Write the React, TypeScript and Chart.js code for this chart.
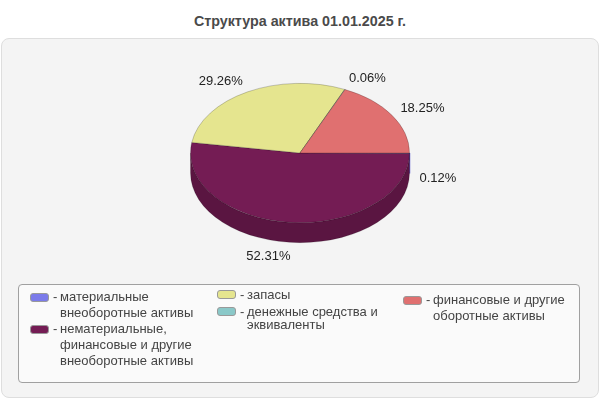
import React, { useEffect, useRef } from 'react'
import { Chart, registerables } from "chart.js";

Chart.register(...registerables)

const title = 'Структура актива 01.01.2025 г.'

const labels = [
    'материальные внеоборотные активы',
    'нематериальные, финансовые и другие внеоборотные активы',
    'запасы',
    'денежные средства и эквиваленты',
    'финансовые и другие оборотные активы',
]
const values = [0.12, 52.31, 29.26, 0.06, 18.25]
const colors = ['#7b7bea', '#741c54', '#e5e58f', '#8ac8c8', '#e07070']
const sideColors = ['#6a6ad8', '#5a1541', '#b3b26e', '#6a9d9d', '#ae5656']

// which legend column each series goes into
const legendColumns = [[0, 1], [2, 3], [4]]

const FONT = "'Liberation Sans', Arial, sans-serif"
const TILT = 0.636
const DEPTH = 20

const pie3d = {
    id: 'pie3d',
    beforeDatasetsDraw(chart: any) {
        const ctx = chart.ctx as CanvasRenderingContext2D
        const arcs = chart.getDatasetMeta(0).data
        if (!arcs.length) return
        const cx = arcs[0].x, cy = arcs[0].y, r = arcs[0].outerRadius
        const ry = r * TILT
        // side walls, front half only
        arcs.forEach((arc: any, i: number) => {
            const a1 = Math.max(arc.startAngle, 0)
            const a2 = Math.min(arc.endAngle, Math.PI)
            if (a2 <= a1) return
            ctx.beginPath()
            ctx.ellipse(cx, cy, r, ry, 0, a1, a2)
            ctx.ellipse(cx, cy + DEPTH, r, ry, 0, a2, a1, true)
            ctx.closePath()
            ctx.fillStyle = sideColors[i]
            ctx.fill()
            ctx.strokeStyle = i === 0 ? sideColors[0] : 'rgba(0,0,0,0.25)'
            ctx.lineWidth = i === 0 ? 1.5 : 0.6
            ctx.stroke()
        })
        ctx.save()
        ctx.translate(cx, cy)
        ctx.scale(1, TILT)
        ctx.translate(-cx, -cy)
    },
    afterDatasetsDraw(chart: any) {
        const ctx = chart.ctx as CanvasRenderingContext2D
        ctx.restore()
        const arcs = chart.getDatasetMeta(0).data
        if (!arcs.length) return
        const cx = arcs[0].x, cy = arcs[0].y, r = arcs[0].outerRadius
        const ry = r * TILT
        ctx.save()
        ctx.font = '13px ' + FONT
        ctx.fillStyle = '#222'
        ctx.textBaseline = 'middle'
        arcs.forEach((arc: any, i: number) => {
            const mid = (arc.startAngle + arc.endAngle) / 2
            const c = Math.cos(mid), s = Math.sin(mid)
            const x = cx + c * (r + 10)
            const y = cy + s * (ry + 12) + (s > 0 ? DEPTH + 2 : 0) + (Math.abs(s) < 0.1 ? 3 : 0)
            ctx.textAlign = c < 0 ? 'right' : 'left'
            ctx.fillText(values[i].toFixed(2) + '%', x, y)
        })
        ctx.restore()
    }
}

const PieChart: React.FunctionComponent = () => {

    const chartRef = useRef<HTMLCanvasElement>(null)

    useEffect(() => {
        const chartCtx = chartRef.current!.getContext("2d") as CanvasRenderingContext2D;

        const newChart = new Chart(chartCtx, {
            type: "pie",
            data: {
                labels: labels,
                datasets: [
                    {
                        data: values,
                        backgroundColor: colors,
                        borderColor: 'rgba(0,0,0,0.25)',
                        borderWidth: 1,
                    }
                ]
            },
            options: {
                animation: false,
                responsive: false,
                rotation: 90,
                layout: {
                    padding: { left: 190, right: 190, top: 43, bottom: 137 }
                },
                plugins: {
                    legend: { display: false },
                    tooltip: { enabled: false },
                    title: { display: false },
                }
            },
            plugins: [pie3d],
        });

        return () => {
            newChart.destroy()
        }
    }, [])

    const legendItem = (i: number, lineHeight: number, gap: number) => (
        <div key={i} style={{ display: 'flex', alignItems: 'flex-start', marginBottom: gap }}>
            <div style={{
                width: 17, height: 7, marginTop: (lineHeight - 9) / 2, borderRadius: 3,
                background: colors[i], border: '1px solid #999', flexShrink: 0,
            }} />
            <div style={{ width: 11, paddingLeft: 4, boxSizing: 'border-box' }}>-</div>
            <div style={{ width: 142 }}>{labels[i]}</div>
        </div>
    )

    const colLeft = [30, 217, 403]
    const colTop = [289, 288, 292]
    const colLine = [16, 13, 16]
    const colGap = [0, 4, 0]

    return (
        <div style={{ position: 'absolute', left: 0, top: 0, width: 600, height: 400, fontFamily: FONT, background: '#fff' }}>
            <div style={{ position: 'absolute', left: 0, top: 13, width: 600, textAlign: 'center', fontSize: 14.3, fontWeight: 'bold', color: '#4a4a4a' }}>
                {title}
            </div>
            <div style={{
                position: 'absolute', left: 1, top: 38, width: 596, height: 358,
                background: '#f4f4f4', border: '1px solid #dedede', borderRadius: 8,
            }} />
            <div style={{
                position: 'absolute', left: 18, top: 284, width: 560, height: 97,
                background: '#fafafa', border: '1px solid #a0a0a0', borderRadius: 4,
            }} />
            <canvas ref={chartRef} width={600} height={400} style={{ position: 'absolute', left: 0, top: 0 }}></canvas>
            {legendColumns.map((col, ci) => (
                <div key={ci} style={{
                    position: 'absolute', left: colLeft[ci], top: colTop[ci],
                    fontSize: 13, color: '#444', lineHeight: colLine[ci] + 'px',
                }}>
                    {col.map(i => legendItem(i, colLine[ci], colGap[ci]))}
                </div>
            ))}
        </div>
    );
}

export default function App() {
    return <PieChart />
}
